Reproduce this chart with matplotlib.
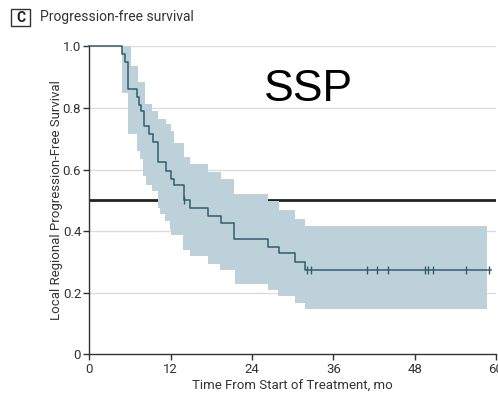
import numpy as np
import matplotlib
matplotlib.use('Agg')
import matplotlib.pyplot as plt
from matplotlib.patches import Rectangle

plt.rcParams['font.family'] = ['Liberation Sans Narrow', 'Roboto', 'DejaVu Sans']

# Kaplan-Meier estimate (step times in months, survival after each step)
event_t = [0, 4.8, 5.3, 5.7, 7.0, 7.3, 7.6, 8.0, 8.8, 9.3, 10.1, 11.3, 12.0, 12.4,
           13.9, 14.8, 17.5, 19.4, 21.4, 26.3, 27.9, 30.3, 31.8, 59.3]
surv = [1.0, 0.975, 0.95, 0.86, 0.835, 0.81, 0.79, 0.74, 0.715, 0.69, 0.625, 0.595,
        0.57, 0.55, 0.50, 0.475, 0.45, 0.425, 0.375, 0.35, 0.33, 0.30, 0.275, 0.275]

# censored observations
censor_t = [14.0, 32.1, 32.7, 40.9, 42.4, 44.0, 49.5, 50.0, 50.7, 55.5, 59.0]

# 95% confidence band
upper_t = [4.8, 6.2, 7.2, 8.2, 9.2, 10.1, 11.3, 12.0, 12.4, 13.9, 14.8, 17.5, 19.4,
           21.4, 26.3, 27.9, 30.3, 31.8]
upper_v = [1.0, 0.937, 0.883, 0.812, 0.790, 0.763, 0.747, 0.725, 0.685, 0.642, 0.617,
           0.592, 0.568, 0.519, 0.497, 0.470, 0.440, 0.416]
lower_t = [4.8, 5.7, 7.0, 7.4, 7.9, 8.4, 9.2, 10.1, 10.4, 11.1, 11.9, 12.1, 13.8, 14.8,
           17.5, 19.3, 21.5, 26.4, 27.8, 30.3, 31.8]
lower_v = [0.85, 0.714, 0.660, 0.633, 0.578, 0.551, 0.530, 0.476, 0.454, 0.432, 0.405,
           0.389, 0.340, 0.318, 0.294, 0.275, 0.229, 0.209, 0.190, 0.166, 0.147]
band_end = 58.7

median_line = 0.5


def step_at(ts, vs, x):
    idx = np.searchsorted(ts, x, side='right') - 1
    return np.asarray(vs)[np.clip(idx, 0, len(vs) - 1)]


fig = plt.figure(figsize=(4.98, 3.95), dpi=100)
ax = fig.add_axes([0.1797, 0.103, 0.8163, 0.7797])

ax.set_xlim(0, 60)
ax.set_ylim(0, 1.0)

# grid
for y in [0.2, 0.4, 0.6, 0.8, 1.0]:
    ax.axhline(y, color='#dddddd', lw=1, zorder=0)

# median reference line
ax.axhline(median_line, color='#222222', lw=2, zorder=1)

# confidence band
grid = np.unique(np.concatenate([upper_t, lower_t, [band_end]]))
hi = step_at(upper_t, upper_v, grid)
lo = step_at(lower_t, lower_v, grid)
ax.fill_between(grid, lo, hi, step='post', color='#bdd1db', lw=0, zorder=2)

# KM curve
ax.plot(event_t, surv, drawstyle='steps-post', color='#2f5d6b', lw=1.1,
        zorder=3, clip_on=False)
cy = step_at(event_t, surv, np.array(censor_t))
ax.plot(censor_t, cy, ls='none', marker='|', ms=6, mew=1, color='#2f5d6b',
        zorder=4, clip_on=False)

ax.text(25.8, 0.823, 'SSP', fontsize=32, family='Liberation Sans', va='baseline',
        ha='left', color='black')

for s in ['top', 'right']:
    ax.spines[s].set_visible(False)
for s in ['left', 'bottom']:
    ax.spines[s].set_color('#333333')
    ax.spines[s].set_linewidth(1)

ax.set_xticks([0, 12, 24, 36, 48, 60])
ax.set_yticks([0, 0.2, 0.4, 0.6, 0.8, 1.0])
ax.set_yticklabels(['0', '0.2', '0.4', '0.6', '0.8', '1.0'])
ax.tick_params(direction='out', length=4, width=1, color='#333333',
               labelsize=9.5, labelcolor='#333333', pad=2)

ax.set_xlabel('Time From Start of Treatment, mo', fontsize=9.5, color='#333333',
              labelpad=3)
ax.set_ylabel('Local Regional Progression-Free Survival', fontsize=9.5,
              color='#333333', labelpad=0)

# panel title
fig.patches.append(Rectangle((11 / 498, 1 - 26 / 395), 19 / 498, 17 / 395,
                             transform=fig.transFigure, fill=False,
                             edgecolor='#333333', lw=1))
fig.text(20.5 / 498, 1 - 17.5 / 395, 'C', fontsize=10, weight='bold',
         ha='center', va='center', color='#222222')
fig.text(40 / 498, 1 - 17.5 / 395, 'Progression-free survival', fontsize=10,
         ha='left', va='center', color='#333333')

fig.savefig('out.png', dpi=100)
